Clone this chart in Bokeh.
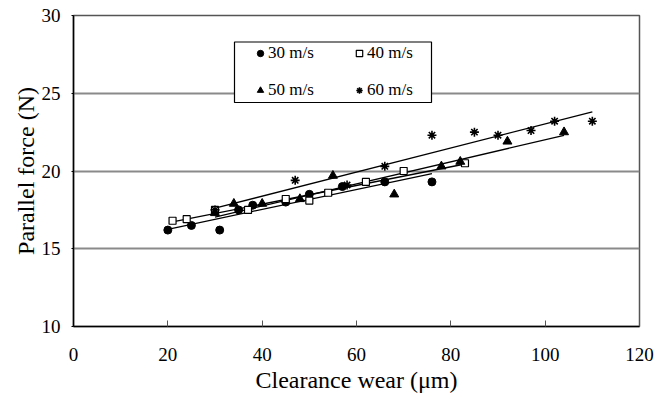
from bokeh.plotting import figure
from bokeh.models import Range1d, Legend, LegendItem, FixedTicker, BoxAnnotation
from bokeh.embed import file_html
from bokeh.resources import INLINE

# data (clearance wear in um, parallel force in N)
s30_x = [20, 25, 31, 35, 38, 45, 50, 57, 66, 76]
s30_y = [16.2, 16.5, 16.2, 17.5, 17.8, 18.0, 18.5, 19.0, 19.3, 19.3]
s40_x = [21, 24, 30, 37, 45, 50, 54, 62, 70, 83]
s40_y = [16.8, 16.9, 17.5, 17.5, 18.2, 18.1, 18.6, 19.3, 20.0, 20.5]
s50_x = [30, 34, 40, 48, 55, 68, 78, 82, 92, 104]
s50_y = [17.3, 17.9, 17.9, 18.2, 19.7, 18.5, 20.3, 20.6, 21.9, 22.5]
s60_x = [30, 47, 58, 66, 76, 85, 90, 97, 102, 110]
s60_y = [17.5, 19.4, 19.1, 20.3, 22.3, 22.5, 22.3, 22.6, 23.2, 23.2]
# linear trend lines (slope N/um, intercept N)
fit_slope = [0.064, 0.060, 0.071, 0.0775]
fit_intercept = [14.97, 15.47, 14.91, 15.28]
labels = ["30 m/s", "40 m/s", "50 m/s", "60 m/s"]
x_ticks = [0, 20, 40, 60, 80, 100, 120]
y_ticks = [10, 15, 20, 25, 30]

FONT = "Liberation Serif"

p = figure(width=665, height=396, output_backend="svg", toolbar_location=None,
           x_range=Range1d(0, 120), y_range=Range1d(10, 30),
           min_border_left=73, min_border_right=26, min_border_top=15, min_border_bottom=70)

p.xgrid.grid_line_color = None
p.ygrid.grid_line_color = "#8a8a8a"
p.ygrid.grid_line_width = 2
p.outline_line_color = "#555555"
p.outline_line_width = 1.5

p.xaxis.ticker = FixedTicker(ticks=x_ticks)
p.yaxis.ticker = FixedTicker(ticks=y_ticks)
for ax in (p.xaxis, p.yaxis):
    ax.axis_line_color = "black"
    ax.axis_line_width = 1.5
    ax.major_label_text_font = FONT
    ax.major_label_text_font_size = "19px"
    ax.major_label_text_color = "black"
    ax.axis_label_text_font = FONT
    ax.axis_label_text_font_style = "normal"
    ax.axis_label_text_font_size = "24px"
    ax.axis_label_text_color = "black"
    ax.minor_tick_line_color = None
p.xaxis.major_tick_in = 6
p.xaxis.major_tick_out = 0
p.xaxis.major_tick_line_color = "#555555"
p.xaxis.major_label_standoff = 21
p.xaxis.axis_label = "Clearance wear (\u03bcm)"
p.xaxis.axis_label_standoff = 3
p.yaxis.major_tick_in = 0
p.yaxis.major_tick_out = 2
p.yaxis.major_label_standoff = 11
p.yaxis.axis_label = "Parallel force (N)"
p.yaxis.axis_label_standoff = 0

series = [(s30_x, s30_y), (s40_x, s40_y), (s50_x, s50_y), (s60_x, s60_y)]
for (xs, ys), k, b in zip(series, fit_slope, fit_intercept):
    xa = [min(xs), max(xs)]
    p.line(xa, [k * v + b for v in xa], line_color="black", line_width=1.3)

r30 = p.scatter(s30_x, s30_y, marker="circle", size=8, fill_color="black", line_color="black")
r40 = p.scatter(s40_x, s40_y, marker="square", size=7, fill_color="white", line_color="black", line_width=1.2)
r50 = p.scatter(s50_x, s50_y, marker="triangle", size=9, fill_color="black", line_color="black")
r60 = p.scatter(s60_x, s60_y, marker="asterisk", size=9, fill_color=None, line_color="black", line_width=1.6)

# legend frame (screen units, relative to the plot frame's bottom-left)
frame = BoxAnnotation(left=161, right=358, top=284.5, bottom=224,
                      left_units="screen", right_units="screen",
                      top_units="screen", bottom_units="screen",
                      fill_color="white", fill_alpha=1, line_color="black",
                      line_alpha=1, line_width=1.2)
p.add_layout(frame)

# column-major order: first column 30, 50; second column 40, 60
legend = Legend(items=[LegendItem(label=labels[0], renderers=[r30]),
                       LegendItem(label=labels[2], renderers=[r50]),
                       LegendItem(label=labels[1], renderers=[r40]),
                       LegendItem(label=labels[3], renderers=[r60])],
                ncols=2, location=(179, 226), orientation="vertical")
legend.label_text_font = FONT
legend.label_text_font_size = "17px"
legend.label_text_color = "black"
legend.border_line_color = None
legend.background_fill_alpha = 0
legend.padding = 0
legend.spacing = 17
legend.glyph_width = 16
legend.glyph_height = 16
legend.label_height = 16
legend.label_width = 66
legend.label_standoff = 0
legend.margin = 0
p.add_layout(legend, "center")

open("out.html", "w").write(file_html(p, INLINE))
